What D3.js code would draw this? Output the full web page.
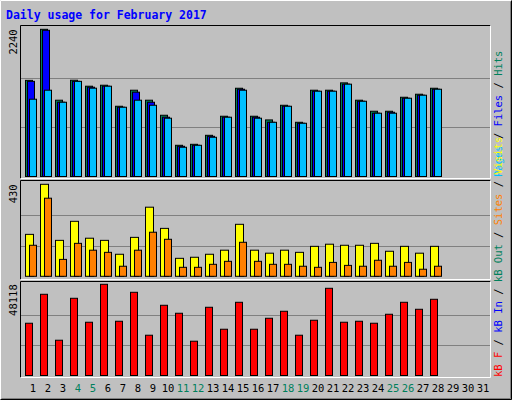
<!DOCTYPE html>
<html><head><meta charset="utf-8">
<script src="https://cdn.jsdelivr.net/npm/d3@7"></script>
<style>body{margin:0;background:#fff}svg{display:block}text{font-family:"DejaVu Sans Mono",monospace}</style>
</head><body><svg id="c" width="512" height="400"></svg>
<script>
const days = d3.range(1,32);
const weekend = [4,5,11,12,18,19,25,26];
const hits  = [1463,2240,1161,1465,1374,1389,1069,1313,1161,932,475,490,627,917,1343,917,861,1084,825,1313,1313,1425,1161,993,993,1206,1252,1343];
const files = [1448,2225,1130,1448,1359,1374,1054,1283,1130,902,460,475,612,902,1328,902,825,1069,810,1298,1298,1405,1145,963,978,1191,1237,1328];
const pages = [1176,1313,1130,1448,1344,1374,1054,1161,1084,887,445,475,597,902,1313,887,825,1069,810,1298,1298,1405,1145,963,963,1191,1237,1328];
const visits= [196,430,168,257,178,168,103,182,323,224,84,89,103,122,243,122,108,122,112,140,150,145,145,154,117,140,108,140];
const sites = [145,365,79,154,122,112,47,122,206,173,42,42,56,70,159,70,56,56,47,42,65,51,47,75,47,65,33,47];
const kbytes= [27570,42850,18610,40740,28100,48118,28620,43900,21250,37050,32840,18090,36000,24410,38630,24410,30200,33890,21250,29150,46010,28100,28620,27570,32310,38630,34940,40210];
const maxLabels = ["2240","430","48118"];

const svg = d3.select("#c");
svg.append("rect").attr("x",0).attr("y",0).attr("width",512).attr("height",400).attr("fill","#c0c0c0");
svg.append("path").attr("d","M0.5,399.5V0.5H511.5").attr("stroke","#fff").attr("fill","none");
svg.append("path").attr("d","M0.5,399.5H511.5V0.5").attr("stroke","#000").attr("fill","none");
svg.append("path").attr("d","M1.5,398.5H510.5V1.5").attr("stroke","#808080").attr("fill","none");
svg.append("text").attr("x",6).attr("y",19).attr("fill","#0000ff").attr("font-weight","bold").attr("font-size",11.5).text("Daily usage for February 2017");

const x = d3.scaleLinear().domain([1,31]).range([25,475]);
const panels = [
  {top:25, bot:179, base:176.5, ymax:29.3, max:2240},
  {top:180, bot:280, base:276.3, ymax:184.3, max:430},
  {top:281, bot:378, base:375.5, ymax:284.3, max:48118}
];
panels.forEach(p=>{
  svg.append("rect").attr("x",20).attr("y",p.top).attr("width",471).attr("height",p.bot-p.top).attr("fill","#c0c0c0");
  svg.append("path").attr("d",`M20.5,${p.bot-0.5}V${p.top+0.5}H490.5`).attr("stroke","#000").attr("fill","none");
  svg.append("path").attr("d",`M20.5,${p.bot-0.5}H490.5V${p.top+0.5}`).attr("stroke","#fff").attr("fill","none");
  p.y = d3.scaleLinear().domain([0,p.max]).range([p.base,p.ymax]);
  [1/3,2/3].forEach(f=>{
    const yy=Math.round(p.y(p.max*f))+0.5;
    svg.append("line").attr("x1",21).attr("x2",490).attr("y1",yy).attr("y2",yy).attr("stroke","#808080");
  });
});
panels.forEach((p,i)=>{
  svg.append("text").attr("transform",`translate(17,${p.ymax}) rotate(-90)`).attr("text-anchor","end")
    .attr("font-size",10.5).attr("fill","#000").text(maxLabels[i]);
});
function bars(data,p,off,w,color){
  svg.append("g").selectAll("rect").data(data).join("rect")
    .attr("x",(d,i)=>x(i+1)+off+0.5).attr("y",d=>p.y(d)).attr("width",w).attr("height",d=>p.base-p.y(d))
    .attr("fill",color).attr("stroke","#000").attr("stroke-width",1);
}
bars(hits,panels[0],0,7,"#00805c");
bars(files,panels[0],2,7,"#0000ff");
bars(pages,panels[0],4,7,"#00c0ff");
bars(visits,panels[1],0,8,"#ffff00");
bars(sites,panels[1],4,7,"#ff8000");
bars(kbytes,panels[2],0,7,"#ff0000");

svg.append("g").selectAll("text").data(days).join("text")
  .attr("x",d=>x(d)+8).attr("y",392).attr("text-anchor","middle").attr("font-size",10.5)
  .attr("fill",d=>weekend.includes(d)?"#00805c":"#000").text(d=>d);

function side(parts,yBottom){
  const t=svg.append("text").attr("transform",`translate(502,${yBottom}) rotate(-90)`).attr("font-size",10.5);
  parts.forEach(([s,c])=>t.append("tspan").attr("fill",c).text(s));
}
side([["Pages","#00c0ff"],[" / ","#000"],["Files","#0000ff"],[" / ","#000"],["Hits","#00805c"]],177);
side([["kB F","#ff0000"],[" / ","#000"],["kB In","#0000ff"],[" / ","#000"],["kB Out","#00805c"],[" / ","#000"],["Sites","#ff8000"],[" / ","#000"],["Visits","#ffff00"]],377);
</script></body></html>
